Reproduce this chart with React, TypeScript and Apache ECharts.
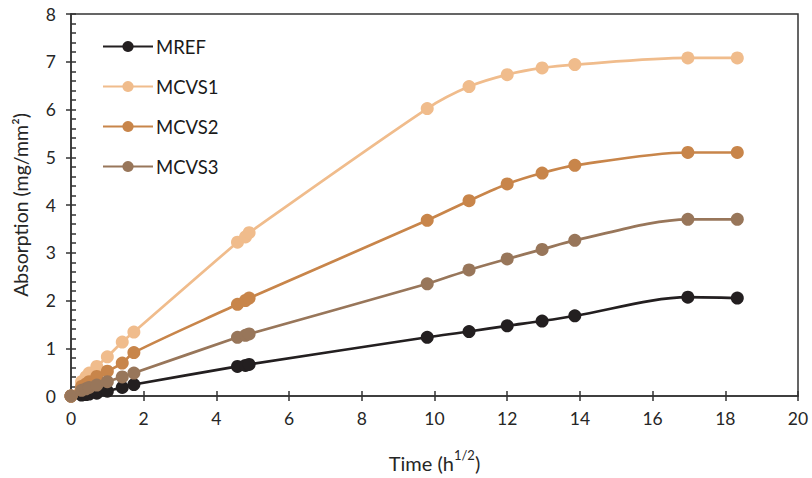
import React, { useEffect, useRef } from "react";
import * as echarts from "echarts";

const timeValues = [0, 0.29, 0.41, 0.5, 0.71, 1, 1.41, 1.73, 4.58, 4.8, 4.9, 9.8, 10.95, 12, 12.96, 13.86, 16.97, 18.33];
const mref = [0, 0.02, 0.03, 0.04, 0.06, 0.1, 0.18, 0.24, 0.62, 0.64, 0.66, 1.23, 1.35, 1.47, 1.57, 1.68, 2.07, 2.05];
const mcvs1 = [0, 0.3, 0.4, 0.48, 0.62, 0.82, 1.13, 1.34, 3.22, 3.33, 3.42, 6.02, 6.48, 6.73, 6.87, 6.94, 7.08, 7.08];
const mcvs2 = [0, 0.2, 0.25, 0.3, 0.41, 0.52, 0.69, 0.91, 1.92, 2.0, 2.05, 3.68, 4.09, 4.44, 4.67, 4.83, 5.1, 5.1];
const mcvs3 = [0, 0.12, 0.15, 0.18, 0.23, 0.3, 0.4, 0.48, 1.23, 1.27, 1.3, 2.35, 2.64, 2.87, 3.07, 3.26, 3.7, 3.7];

const seriesNames = ["MREF", "MCVS1", "MCVS2", "MCVS3"];
const seriesValues = [mref, mcvs1, mcvs2, mcvs3];
const seriesColors = ["#231f20", "#f0bc8c", "#c8854a", "#98765a"];

const FONT = "Lato";

export default function App() {
  const ref = useRef<HTMLDivElement>(null);
  useEffect(() => {
    if (!ref.current) return;
    const chart = echarts.init(ref.current, null, { renderer: "svg" });
    const axisColor = "#333333";
    const grid = { left: 71, right: 14, top: 14, bottom: 80 };
    chart.setOption({
      animation: false,
      backgroundColor: "#ffffff",
      grid: { ...grid, show: true, borderColor: "#333333", borderWidth: 1.5, backgroundColor: "transparent" },
      legend: {
        orient: "vertical",
        left: 97,
        top: 32,
        itemWidth: 50,
        itemHeight: 14,
        itemGap: 21,
        textStyle: { fontFamily: FONT, fontSize: 18.5, color: "#1a1a1a", padding: [0, 0, 0, -2] },
        data: seriesNames,
      },
      xAxis: [
        {
          type: "value",
          min: 0,
          max: 20,
          interval: 2,
          axisLine: { show: true, lineStyle: { color: axisColor, width: 1.5 } },
          axisTick: { show: true, inside: false, length: 5, lineStyle: { color: axisColor, width: 1.5 } },
          axisLabel: { fontFamily: FONT, fontSize: 17.5, color: "#262626", margin: 13 },
          splitLine: { show: false },
          name: "Time (h{sup|1/2})",
          nameLocation: "middle",
          nameGap: 52,
          nameTextStyle: {
            fontFamily: FONT,
            fontSize: 20,
            color: "#262626",
            rich: {
              sup: { fontFamily: FONT, fontSize: 13, color: "#262626", verticalAlign: "top", lineHeight: 30 },
            },
          },
        },
        {
          type: "value",
          min: 0,
          max: 20,
          interval: 2,
          position: "bottom",
          axisLine: { show: false },
          axisTick: { show: true, inside: true, length: 5, lineStyle: { color: axisColor, width: 1.5 } },
          axisLabel: { show: false },
          splitLine: { show: false },
        },
      ],
      yAxis: [
        {
          type: "value",
          min: 0,
          max: 8,
          interval: 1,
          axisLine: { show: true, lineStyle: { color: axisColor, width: 1.5 } },
          axisTick: { show: true, inside: false, length: 5, lineStyle: { color: axisColor, width: 1.5 } },
          axisLabel: { fontFamily: FONT, fontSize: 17.5, color: "#262626", margin: 15 },
          splitLine: { show: false },
          name: "Absorption (mg/mm²)",
          nameLocation: "middle",
          nameGap: 41,
          nameTextStyle: { fontFamily: FONT, fontSize: 19.5, color: "#262626" },
        },
        {
          type: "value",
          min: 0,
          max: 8,
          interval: 1,
          position: "left",
          axisLine: { show: false },
          axisTick: { show: true, inside: true, length: 5, lineStyle: { color: axisColor, width: 1.5 } },
          minorTick: { show: true, splitNumber: 5, length: 5, lineStyle: { color: axisColor, width: 1.5 } },
          axisLabel: { show: false },
          splitLine: { show: false },
          minorSplitLine: { show: false },
        },
      ],
      series: seriesNames.map((name, i) => ({
        name,
        type: "line",
        data: timeValues.map((t, j) => [t, seriesValues[i][j]]),
        smooth: 0.3,
        symbol: "circle",
        symbolSize: 13,
        showSymbol: true,
        color: seriesColors[i],
        lineStyle: { color: seriesColors[i], width: 2.7 },
        itemStyle: { color: seriesColors[i] },
      })),
    });
    return () => chart.dispose();
  }, []);
  return <div ref={ref} style={{ width: 812, height: 478, position: "absolute", left: 0, top: 0 }} />;
}
